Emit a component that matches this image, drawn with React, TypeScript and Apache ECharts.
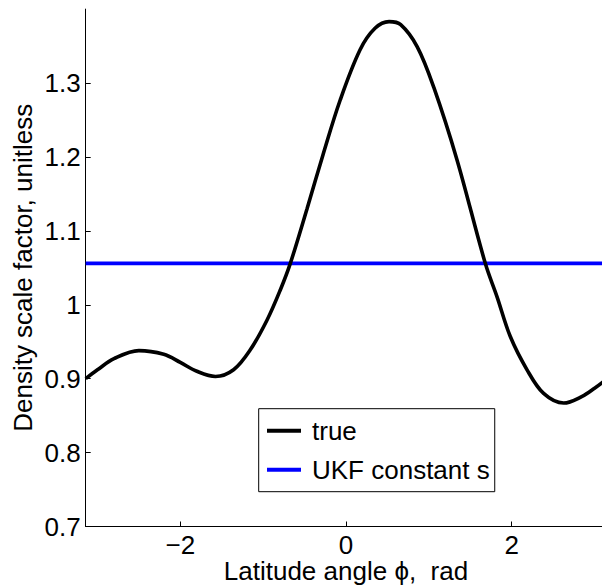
import React, { useEffect, useRef } from "react";
import * as echarts from "echarts";

const PI = Math.PI;
const phiValues = [
  -PI, -3.0, -2.8, -2.5, -2.2, -2.0, -1.8, -1.575, -1.357, -1.155, -0.954, -0.793, -0.672,
  -0.47, -0.28, -0.07, 0.17, 0.35, 0.52, 0.66, 0.86, 1.06, 1.34, 1.681, 1.822, 1.983,
  2.185, 2.385, 2.627, 2.85, 3.0, PI,
];
const trueValues = [
  0.900, 0.912, 0.927, 0.938, 0.933, 0.922, 0.910, 0.903, 0.912, 0.939, 0.979, 1.020, 1.056,
  1.130, 1.202, 1.277, 1.345, 1.374, 1.383, 1.379, 1.349, 1.294, 1.196, 1.056, 1.011, 0.957,
  0.912, 0.880, 0.867, 0.876, 0.887, 0.899,
];
const ukfConstant = 1.056;
const xTicks = [-2, 0, 2];
const yTicks = [0.7, 0.8, 0.9, 1.0, 1.1, 1.2, 1.3];
const seriesNames = ["true", "UKF constant s"];

const FONT = "Liberation Sans, Arial, Helvetica, sans-serif";

export default function App() {
  const ref = useRef<HTMLDivElement>(null);
  useEffect(() => {
    if (!ref.current) return;
    const chart = echarts.init(ref.current, null, { renderer: "svg" });
    const trueData = phiValues.map((x, i) => [x, trueValues[i]]);
    const ukfData = [[-PI, ukfConstant], [PI, ukfConstant]];
    chart.setOption({
      animation: false,
      backgroundColor: "#ffffff",
      textStyle: { fontFamily: FONT },
      grid: {
        left: 85.7,
        top: 9.1,
        width: 520.6,
        height: 517.4,
        containLabel: false,
        outerBoundsMode: "none",
      },
      xAxis: {
        type: "value",
        min: -PI,
        max: PI,
        name: "Latitude angle \u03d5,  rad",
        nameLocation: "middle",
        nameGap: 33,
        nameMoveOverlap: false,
        nameTextStyle: {
          fontSize: 26,
          lineHeight: 22,
          color: "#000",
          fontFamily: FONT,
          verticalAlign: "top",
        },
        axisLine: { show: true, onZero: false, lineStyle: { color: "#000", width: 1 } },
        axisTick: { show: true, inside: true, length: 5, customValues: xTicks, lineStyle: { color: "#000" } },
        axisLabel: {
          customValues: xTicks,
          fontSize: 26,
          lineHeight: 20,
          color: "#000",
          margin: 8,
          fontFamily: FONT,
          formatter: (v: number) => String(v).replace("-", "\u2212"),
        },
        splitLine: { show: false },
      },
      yAxis: {
        type: "value",
        min: 0.7,
        max: 1.4,
        name: "Density scale factor, unitless",
        nameLocation: "middle",
        nameGap: 50,
        nameMoveOverlap: false,
        nameTextStyle: { fontSize: 26, color: "#000", fontFamily: FONT },
        axisLine: { show: true, onZero: false, lineStyle: { color: "#000", width: 1 } },
        axisTick: { show: true, inside: true, length: 5, customValues: yTicks, lineStyle: { color: "#000" } },
        axisLabel: {
          customValues: yTicks,
          fontSize: 26,
          color: "#000",
          margin: 5,
          fontFamily: FONT,
          formatter: (v: number) => String(parseFloat(v.toFixed(1))),
        },
        splitLine: { show: false },
      },
      legend: {
        orient: "vertical",
        left: 258.7,
        top: 408.7,
        padding: [9, 5, 9, 8.3],
        itemGap: 13,
        itemWidth: 34,
        itemHeight: 4,
        icon: "rect",
        borderColor: "#000",
        borderWidth: 1,
        backgroundColor: "#fff",
        data: seriesNames,
        textStyle: { fontSize: 26, color: "#000", fontFamily: FONT, padding: [0, 0, 0, 6] },
      },
      series: [
        {
          name: seriesNames[0],
          type: "line",
          data: trueData,
          smooth: 0.35,
          showSymbol: false,
          symbol: "none",
          lineStyle: { color: "#000", width: 3.6 },
          itemStyle: { color: "#000" },
          z: 3,
        },
        {
          name: seriesNames[1],
          type: "line",
          data: ukfData,
          showSymbol: false,
          symbol: "none",
          lineStyle: { color: "#0000ff", width: 3.6 },
          itemStyle: { color: "#0000ff" },
          z: 2,
        },
      ],
    });
    return () => chart.dispose();
  }, []);
  return (
    <div
      ref={ref}
      style={{ position: "absolute", left: 0, top: 0, width: 602, height: 585 }}
    />
  );
}
